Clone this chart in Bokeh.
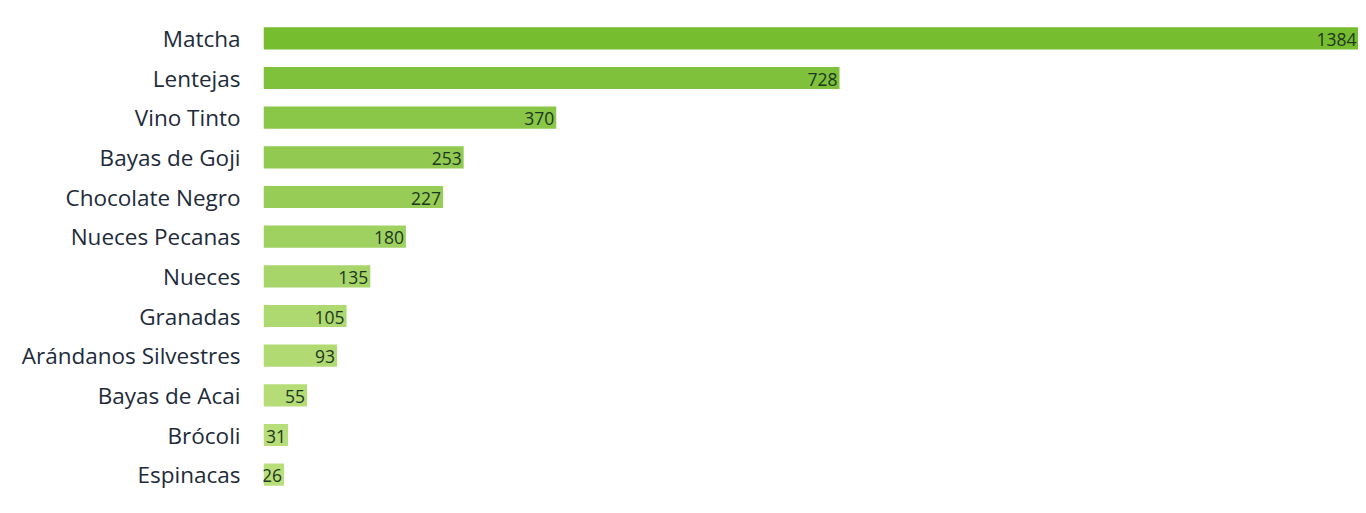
from bokeh.plotting import figure
from bokeh.models import ColumnDataSource, Range1d, FactorRange
from bokeh.embed import file_html
from bokeh.resources import INLINE

categories = ["Matcha", "Lentejas", "Vino Tinto", "Bayas de Goji", "Chocolate Negro",
              "Nueces Pecanas", "Nueces", "Granadas", "Arándanos Silvestres",
              "Bayas de Acai", "Brócoli", "Espinacas"]
values = [1384, 728, 370, 253, 227, 180, 135, 105, 93, 55, 31, 26]
colors = ["#77bd30", "#7fc13b", "#8ac647", "#92ca51", "#97cc56", "#9fd160",
          "#a7d569", "#aed970", "#b1da73", "#b5dc77", "#b7de79", "#b9df7b"]
labels = [str(v) for v in values]

src = ColumnDataSource(dict(cat=categories, val=values, col=colors, lab=labels))

p = figure(width=1358, height=497, output_backend="svg", toolbar_location=None,
           y_range=FactorRange(*reversed(categories)), x_range=Range1d(0, 1384),
           min_border_left=263, min_border_right=0, min_border_top=18, min_border_bottom=3)
p.hbar(y="cat", left=0, right="val", height=0.56, fill_color="col", line_color=None, source=src)
p.text(x="val", y="cat", text="lab", source=src, x_offset=-2, y_offset=1,
       text_align="right", text_baseline="middle", text_font_size="17.5px",
       text_color="#1c3820", text_font={"value": "Open Sans"})

p.xaxis.visible = False
p.yaxis.axis_line_color = None
p.yaxis.major_tick_line_color = None
p.yaxis.minor_tick_line_color = None
p.yaxis.major_tick_in = 0
p.yaxis.major_tick_out = 0
p.yaxis.major_label_standoff = 23
p.yaxis.major_label_text_font = "Open Sans"
p.yaxis.major_label_text_font_size = "22.5px"
p.yaxis.major_label_text_color = "#1e2b3a"
p.grid.visible = False
p.outline_line_color = None
p.background_fill_color = "white"
p.border_fill_color = "white"

open("out.html", "w").write(file_html(p, INLINE))
